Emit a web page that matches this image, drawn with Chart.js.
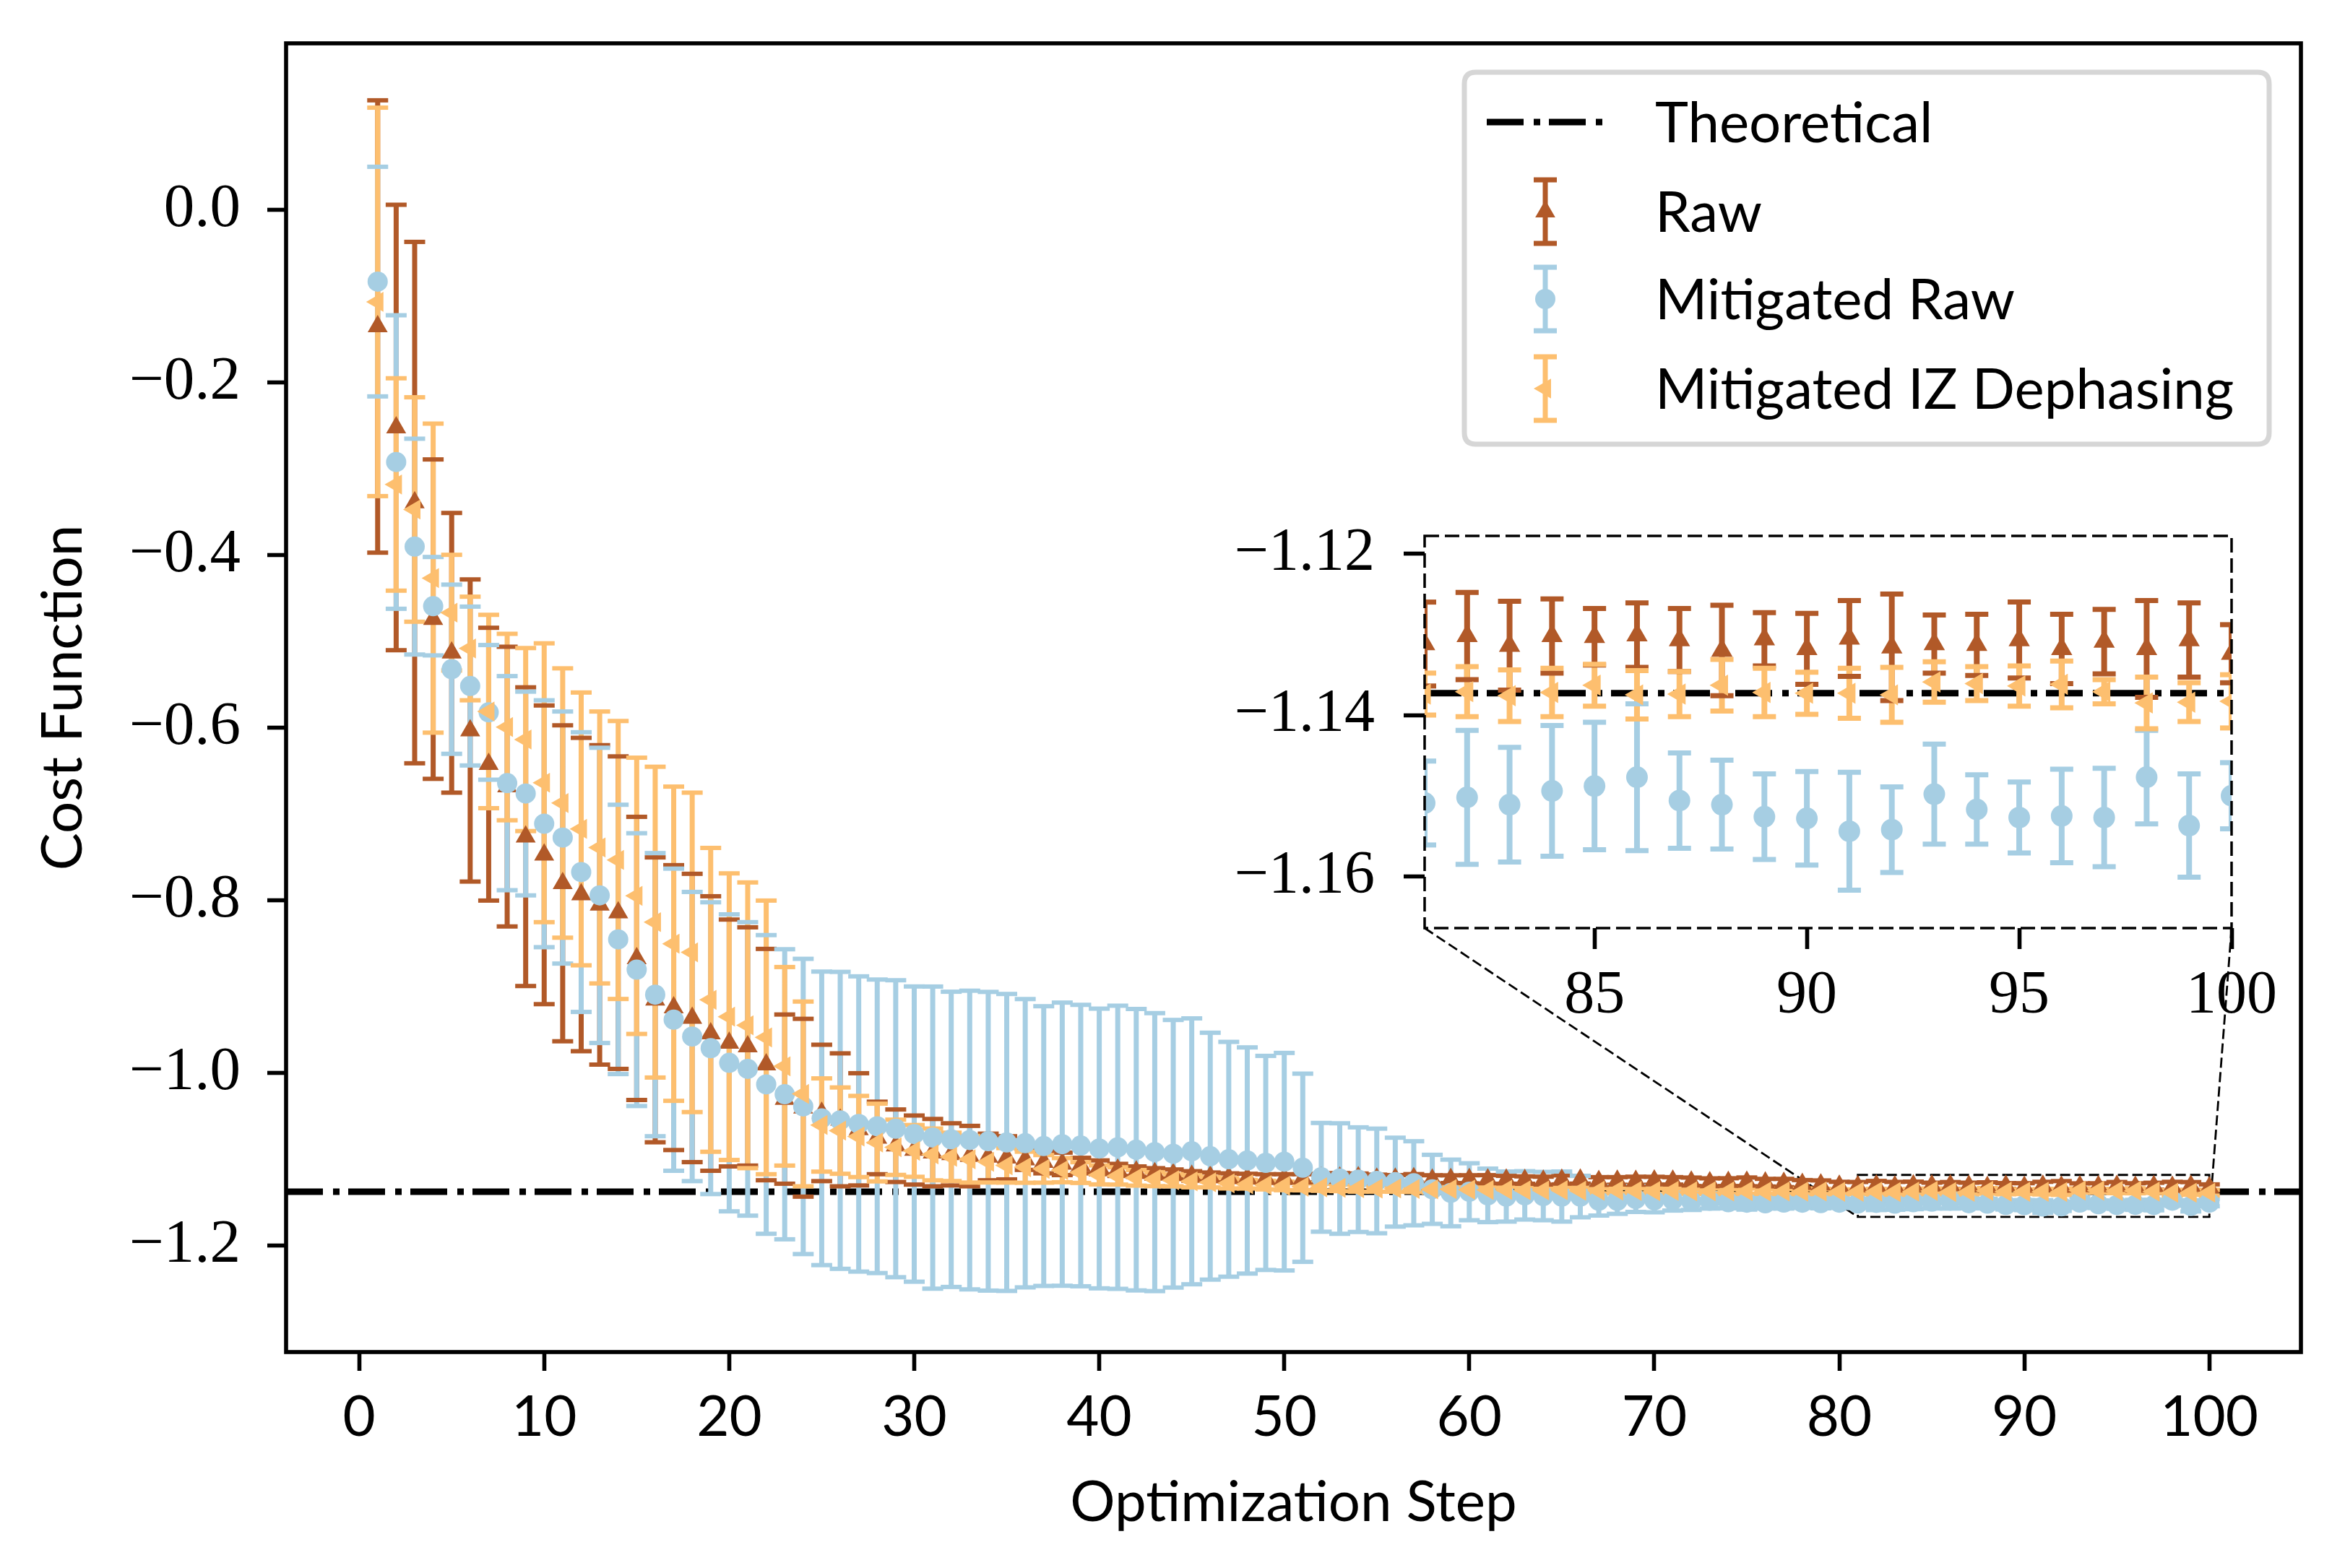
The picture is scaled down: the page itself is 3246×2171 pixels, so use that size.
<!DOCTYPE html>
<html>
<head>
<meta charset="utf-8">
<title>Cost Function vs Optimization Step</title>
<script src="https://cdn.jsdelivr.net/npm/chart.js@4.4.1/dist/chart.umd.min.js"></script>
<style>
  html, body { margin: 0; padding: 0; background: #fff; }
  #wrap { position: relative; width: 3246px; height: 2171px; }
  #main-box { position: absolute; left: 0; top: 0; width: 3246px; height: 2171px; }
  #inset-box { position: absolute; left: 1700px; top: 700px; width: 1500px; height: 720px; }
</style>
</head>
<body>
<div id="wrap">
  <div id="main-box"><canvas id="cost-chart"></canvas></div>
  <div id="inset-box"><canvas id="inset-chart"></canvas></div>
</div>
<script>
// Data
const steps = [
  1, 2, 3, 4, 5, 6, 7, 8, 9, 10, 11, 12, 13, 14, 15, 16, 17, 18, 19, 20,
  21, 22, 23, 24, 25, 26, 27, 28, 29, 30, 31, 32, 33, 34, 35, 36, 37, 38, 39, 40,
  41, 42, 43, 44, 45, 46, 47, 48, 49, 50, 51, 52, 53, 54, 55, 56, 57, 58, 59, 60,
  61, 62, 63, 64, 65, 66, 67, 68, 69, 70, 71, 72, 73, 74, 75, 76, 77, 78, 79, 80,
  81, 82, 83, 84, 85, 86, 87, 88, 89, 90, 91, 92, 93, 94, 95, 96, 97, 98, 99, 100
];

const rawMean = [
  -0.135, -0.252, -0.339, -0.474, -0.513, -0.603, -0.642, -0.668, -0.726, -0.747,
  -0.780, -0.793, -0.805, -0.814, -0.867, -0.915, -0.924, -0.936, -0.954, -0.965,
  -0.969, -0.990, -1.030, -1.040, -1.046, -1.054, -1.065, -1.075, -1.084, -1.089,
  -1.092, -1.094, -1.096, -1.097, -1.098, -1.100, -1.103, -1.105, -1.107, -1.109,
  -1.112, -1.114, -1.116, -1.117, -1.119, -1.120, -1.121, -1.1215, -1.122, -1.122,
  -1.1222, -1.1215, -1.1212, -1.1208, -1.1225, -1.1224, -1.1218, -1.1235, -1.1228, -1.1229,
  -1.1232, -1.1235, -1.1238, -1.1248, -1.1236, -1.1234, -1.1252, -1.1248, -1.1249, -1.1246,
  -1.1247, -1.1258, -1.1265, -1.1262, -1.1259, -1.1268, -1.1272, -1.1284, -1.1292, -1.1305,
  -1.1312, -1.1302, -1.1314, -1.1302, -1.1303, -1.1301, -1.1307, -1.1320, -1.1306, -1.1318,
  -1.1305, -1.1316, -1.1312, -1.1313, -1.1307, -1.1318, -1.1309, -1.1318, -1.1307, -1.1324
];
const rawErr = [
  0.262, 0.258, 0.302, 0.185, 0.162, 0.175, 0.158, 0.162, 0.173, 0.173,
  0.183, 0.1815, 0.185, 0.181, 0.164, 0.165, 0.165, 0.167, 0.159, 0.143,
  0.138, 0.134, 0.098, 0.103, 0.079, 0.077, 0.065, 0.042, 0.042, 0.040,
  0.039, 0.036, 0.035, 0.027, 0.025, 0.012, 0.013, 0.013, 0.009, 0.008,
  0.007, 0.006, 0.006, 0.0055, 0.0055, 0.005, 0.005, 0.005, 0.005, 0.005,
  0.0052, 0.0048, 0.0055, 0.0046, 0.0050, 0.0044, 0.0049, 0.0053, 0.0045, 0.0047,
  0.0051, 0.0046, 0.0043, 0.0049, 0.0052, 0.0045, 0.0048, 0.0044, 0.0050, 0.0046,
  0.0043, 0.0049, 0.0047, 0.0045, 0.0051, 0.0044, 0.0048, 0.0046, 0.0050, 0.0047,
  0.0052, 0.0054, 0.0055, 0.0046, 0.0035, 0.0040, 0.0039, 0.0056, 0.0033, 0.0044,
  0.0047, 0.0066, 0.0036, 0.0038, 0.0047, 0.0043, 0.0040, 0.0060, 0.0046, 0.0036
];

const mitMean = [
  -0.083, -0.292, -0.390, -0.459, -0.532, -0.5515, -0.582, -0.664, -0.676, -0.711,
  -0.727, -0.767, -0.794, -0.845, -0.880, -0.909, -0.938, -0.9575, -0.971, -0.988,
  -0.995, -1.013, -1.0244, -1.0385, -1.0523, -1.0546, -1.0588, -1.0615, -1.0643, -1.0705,
  -1.0746, -1.0766, -1.0774, -1.0788, -1.0802, -1.0811, -1.0844, -1.0822, -1.0838, -1.0872,
  -1.0858, -1.0886, -1.0914, -1.0933, -1.0905, -1.0961, -1.0997, -1.1011, -1.1039, -1.1025,
  -1.1095, -1.1206, -1.1220, -1.1233, -1.1248, -1.1262, -1.1275, -1.1345, -1.1387, -1.1373,
  -1.1415, -1.1429, -1.1415, -1.1423, -1.1429, -1.1429, -1.1479, -1.1479, -1.1457, -1.1471,
  -1.1471, -1.1484, -1.1478, -1.1495, -1.1500, -1.1507, -1.1498, -1.1500, -1.1505, -1.1500,
  -1.1509, -1.1502, -1.1511, -1.1494, -1.1488, -1.1477, -1.1506, -1.1511, -1.1526, -1.1528,
  -1.1544, -1.1542, -1.1498, -1.1517, -1.1527, -1.1525, -1.1527, -1.1477, -1.1537, -1.1500
];
const mitErr = [
  0.133, 0.170, 0.125, 0.057, 0.098, 0.092, 0.078, 0.124, 0.118, 0.143,
  0.146, 0.162, 0.171, 0.156, 0.158, 0.164, 0.175, 0.1675, 0.169, 0.172,
  0.170, 0.173, 0.168, 0.171, 0.170, 0.172, 0.171, 0.170, 0.172, 0.171,
  0.175, 0.171, 0.173, 0.173, 0.172, 0.167, 0.162, 0.164, 0.163, 0.162,
  0.164, 0.163, 0.161, 0.155, 0.154, 0.143, 0.136, 0.131, 0.124, 0.126,
  0.109, 0.063, 0.064, 0.0606, 0.0606, 0.0515, 0.0487, 0.040, 0.0386, 0.033,
  0.031, 0.029, 0.028, 0.028, 0.029, 0.024, 0.017, 0.015, 0.015, 0.014,
  0.012, 0.010, 0.009, 0.007, 0.008, 0.006, 0.007, 0.006, 0.006, 0.006,
  0.0052, 0.0083, 0.0071, 0.0081, 0.0079, 0.0091, 0.0059, 0.0055, 0.0053, 0.0058,
  0.0073, 0.0053, 0.0062, 0.0043, 0.0044, 0.0058, 0.0061, 0.0058, 0.0064, 0.0041
];

const izMean = [
  -0.1065, -0.318, -0.347, -0.4265, -0.4665, -0.508, -0.581, -0.599, -0.6135, -0.6635,
  -0.687, -0.717, -0.7385, -0.753, -0.7945, -0.825, -0.850, -0.860, -0.915, -0.9345,
  -0.9445, -0.9585, -0.992, -1.024, -1.060, -1.0665, -1.0733, -1.0803, -1.0858, -1.090,
  -1.0941, -1.0969, -1.0997, -1.1026, -1.1067, -1.1089, -1.1108, -1.1123, -1.1151, -1.1178,
  -1.1190, -1.1212, -1.1228, -1.1240, -1.1252, -1.1263, -1.1275, -1.1286, -1.1296, -1.1305,
  -1.1315, -1.1322, -1.1328, -1.1331, -1.1336, -1.1334, -1.1341, -1.1345, -1.1343, -1.1349,
  -1.1352, -1.1350, -1.1356, -1.1358, -1.1355, -1.1361, -1.1362, -1.1359, -1.1364, -1.1366,
  -1.1363, -1.1368, -1.1367, -1.1370, -1.1366, -1.1371, -1.1369, -1.1372, -1.1370, -1.1373,
  -1.1374, -1.1371, -1.1376, -1.1372, -1.1363, -1.1375, -1.1374, -1.1363, -1.1372, -1.1373,
  -1.1373, -1.1375, -1.1359, -1.1361, -1.1364, -1.1362, -1.1371, -1.1385, -1.1384, -1.1383
];
const izErr = [
  0.225, 0.123, 0.130, 0.179, 0.067, 0.060, 0.112, 0.108, 0.106, 0.1615,
  0.156, 0.158, 0.1575, 0.161, 0.160, 0.180, 0.182, 0.185, 0.176, 0.166,
  0.1655, 0.1585, 0.115, 0.107, 0.054, 0.050, 0.047, 0.045, 0.032, 0.030,
  0.030, 0.028, 0.027, 0.024, 0.020, 0.018, 0.016, 0.014, 0.012, 0.011,
  0.010, 0.009, 0.008, 0.007, 0.007, 0.006, 0.006, 0.005, 0.005, 0.005,
  0.0042, 0.0040, 0.0038, 0.0041, 0.0036, 0.0039, 0.0035, 0.0037, 0.0034, 0.0036,
  0.0033, 0.0035, 0.0032, 0.0034, 0.0031, 0.0033, 0.0030, 0.0032, 0.0029, 0.0031,
  0.0030, 0.0028, 0.0031, 0.0029, 0.0030, 0.0027, 0.0030, 0.0028, 0.0029, 0.0027,
  0.0026, 0.0031, 0.0032, 0.0030, 0.0026, 0.0030, 0.0028, 0.0032, 0.0030, 0.0026,
  0.0031, 0.0034, 0.0025, 0.0021, 0.0025, 0.0029, 0.0015, 0.0032, 0.0024, 0.0033
];

const theoretical = -1.1373;

const xTicks = [0, 10, 20, 30, 40, 50, 60, 70, 80, 90, 100];
const yTicks = [-1.2, -1.0, -0.8, -0.6, -0.4, -0.2, 0.0];
const insetXTicks = [85, 90, 95, 100];
const insetYTicks = [-1.16, -1.14, -1.12];
const insetXRange = [81, 100];
const insetYRange = [-1.1664, -1.1178];

// Colours (matplotlib "Paired")
const BROWN = "#b15928";
const BLUE = "#a6cee3";
const ORANGE = "#fdbf6f";

// Where the inset plot area sits on the page
const INSET_BOX = { left: 1700, top: 700, width: 1500, height: 720 };
const INSET_AREA = { left: 1972, top: 742, right: 3089, bottom: 1285 };

const THEO_DASH = [51, 14, 9, 12];
const SANS = "Lato";
const SERIF = "'Liberation Serif'";

function minusFmt(v, digits) {
  const s = Math.abs(v).toFixed(digits);
  return (v < -1e-9 ? "\u2212" : "") + s;
}

function barPoints(mean, err) {
  const pts = [];
  steps.forEach((s, i) => {
    pts.push({ x: s, y: mean[i] - err[i] });
    pts.push({ x: s, y: mean[i] + err[i] });
    pts.push({ x: s, y: null });
  });
  return pts;
}

function capPoints(mean, err) {
  const pts = [];
  steps.forEach((s, i) => {
    pts.push({ x: s, y: mean[i] - err[i] });
    pts.push({ x: s, y: mean[i] + err[i] });
  });
  return pts;
}

function markerPoints(mean) {
  return steps.map((s, i) => ({ x: s, y: mean[i] }));
}

const seriesList = [
  { label: "Raw", mean: rawMean, err: rawErr, color: BROWN, style: "triangle", rot: 0 },
  { label: "Mitigated Raw", mean: mitMean, err: mitErr, color: BLUE, style: "circle", rot: 0 },
  { label: "Mitigated IZ Dephasing", mean: izMean, err: izErr, color: ORANGE, style: "triangle", rot: -90 }
];

// lower "order" is drawn on top: markers > caps > bars > theoretical line
function buildDatasets(o) {
  const ds = [{
    type: "line",
    label: "Theoretical",
    data: [{ x: o.xMin, y: theoretical }, { x: o.xMax, y: theoretical }],
    borderColor: "#000",
    borderWidth: o.theoWidth,
    borderDash: THEO_DASH,
    pointRadius: 0,
    order: 10,
    clip: o.clip
  }];
  seriesList.forEach((s, i) => {
    ds.push({
      type: "line",
      label: s.label + " bars",
      data: barPoints(s.mean, s.err),
      borderColor: s.color,
      borderWidth: o.barWidth,
      pointRadius: 0,
      spanGaps: false,
      order: 9 - i,
      clip: o.clip
    });
    ds.push({
      type: "scatter",
      label: s.label + " caps",
      data: capPoints(s.mean, s.err),
      pointStyle: "line",
      pointRadius: o.cap,
      pointBorderColor: s.color,
      pointBorderWidth: o.capWidth,
      order: 6 - i,
      clip: o.clip
    });
    ds.push({
      type: "scatter",
      label: s.label,
      data: markerPoints(s.mean),
      pointStyle: s.style,
      pointRotation: s.rot,
      pointRadius: s.style === "circle" ? o.dot : o.tri,
      pointBackgroundColor: s.color,
      pointBorderWidth: 0,
      order: 3 - i,
      clip: o.clip
    });
  });
  return ds;
}

function drawMarker(ctx, style, rot, r, x, y, color) {
  ctx.save();
  ctx.fillStyle = color;
  ctx.beginPath();
  if (style === "circle") {
    ctx.arc(x, y, r, 0, Math.PI * 2);
  } else {
    let a = rot * Math.PI / 180;
    ctx.moveTo(x + Math.sin(a) * r, y - Math.cos(a) * r);
    a += 2 * Math.PI / 3;
    ctx.lineTo(x + Math.sin(a) * r, y - Math.cos(a) * r);
    a += 2 * Math.PI / 3;
    ctx.lineTo(x + Math.sin(a) * r, y - Math.cos(a) * r);
    ctx.closePath();
  }
  ctx.fill();
  ctx.restore();
}

function roundRect(ctx, x, y, w, h, r) {
  ctx.beginPath();
  ctx.moveTo(x + r, y);
  ctx.lineTo(x + w - r, y);
  ctx.quadraticCurveTo(x + w, y, x + w, y + r);
  ctx.lineTo(x + w, y + h - r);
  ctx.quadraticCurveTo(x + w, y + h, x + w - r, y + h);
  ctx.lineTo(x + r, y + h);
  ctx.quadraticCurveTo(x, y + h, x, y + h - r);
  ctx.lineTo(x, y + r);
  ctx.quadraticCurveTo(x, y, x + r, y);
  ctx.closePath();
}

// zoom box + connector lines, main frame and legend
const mainDecor = {
  id: "mainDecor",
  beforeDatasetsDraw(chart) {
    const { ctx, scales: { x, y } } = chart;
    const x0 = x.getPixelForValue(insetXRange[0]);
    const x1 = x.getPixelForValue(insetXRange[1]);
    const yLo = y.getPixelForValue(insetYRange[0]);
    const yHi = y.getPixelForValue(insetYRange[1]);
    ctx.save();
    ctx.strokeStyle = "#000";
    ctx.lineWidth = 2.8;
    ctx.setLineDash([14, 6]);
    ctx.strokeRect(x0, yHi, x1 - x0, yLo - yHi);
    ctx.beginPath();
    ctx.moveTo(INSET_AREA.left, INSET_AREA.bottom);
    ctx.lineTo(x0, yLo);
    ctx.moveTo(INSET_AREA.right, INSET_AREA.bottom);
    ctx.lineTo(x1, yLo);
    ctx.stroke();
    ctx.restore();
  },
  afterDraw(chart) {
    const { ctx, chartArea: a } = chart;
    ctx.save();
    ctx.strokeStyle = "#000";
    ctx.lineWidth = 5.6;
    ctx.strokeRect(a.left, a.top, a.right - a.left, a.bottom - a.top);

    // legend
    const L = { left: a.right - 1158, top: a.top + 40, w: 1114, h: 515 };
    roundRect(ctx, L.left, L.top, L.w, L.h, 16);
    ctx.fillStyle = "rgba(255,255,255,0.8)";
    ctx.fill();
    ctx.lineWidth = 7;
    ctx.strokeStyle = "#d6d6d6";
    ctx.stroke();

    const hx = L.left + 112;
    const tx = L.left + 264;
    const rows = [L.top + 69, L.top + 193, L.top + 314, L.top + 438];

    ctx.strokeStyle = "#000";
    ctx.lineWidth = 9;
    ctx.setLineDash(THEO_DASH);
    ctx.beginPath();
    ctx.moveTo(hx - 81, rows[0]);
    ctx.lineTo(hx + 80, rows[0]);
    ctx.stroke();
    ctx.setLineDash([]);

    seriesList.forEach((s, i) => {
      const cy = rows[i + 1];
      ctx.strokeStyle = s.color;
      ctx.lineWidth = 7;
      ctx.beginPath();
      ctx.moveTo(hx, cy - 44);
      ctx.lineTo(hx, cy + 44);
      ctx.stroke();
      ctx.beginPath();
      ctx.moveTo(hx - 16, cy - 44);
      ctx.lineTo(hx + 16, cy - 44);
      ctx.moveTo(hx - 16, cy + 44);
      ctx.lineTo(hx + 16, cy + 44);
      ctx.stroke();
      drawMarker(ctx, s.style, s.rot, s.style === "circle" ? 14 : 16, hx, cy, s.color);
    });

    ctx.fillStyle = "#000";
    ctx.font = "78px " + SANS;
    ctx.textAlign = "left";
    ctx.textBaseline = "alphabetic";
    ctx.fillText("Theoretical", tx, rows[0] + 28);
    seriesList.forEach((s, i) => ctx.fillText(s.label, tx, rows[i + 1] + 28));
    ctx.restore();
  }
};

const insetDecor = {
  id: "insetDecor",
  beforeDraw(chart) {
    const { ctx, chartArea: a } = chart;
    ctx.save();
    ctx.fillStyle = "#fff";
    ctx.fillRect(a.left, a.top, a.right - a.left, a.bottom - a.top);
    ctx.restore();
  },
  afterDraw(chart) {
    const { ctx, chartArea: a } = chart;
    ctx.save();
    ctx.strokeStyle = "#000";
    ctx.lineWidth = 3.5;
    ctx.setLineDash([20, 8]);
    ctx.strokeRect(a.left, a.top, a.right - a.left, a.bottom - a.top);
    ctx.restore();
  }
};

const tickGrid = (len) => ({
  display: true,
  drawOnChartArea: false,
  drawTicks: true,
  tickLength: len,
  tickWidth: 5.6,
  tickColor: "#000"
});

// Main chart
const costCtx = document.getElementById("cost-chart").getContext("2d");
new Chart(costCtx, {
  type: "scatter",
  data: {
    datasets: buildDatasets({
      xMin: -3.95, xMax: 104.95, theoWidth: 9, barWidth: 7,
      cap: 14.5, capWidth: 6, dot: 14, tri: 16, clip: undefined
    })
  },
  options: {
    responsive: true,
    maintainAspectRatio: false,
    animation: false,
    devicePixelRatio: 1,
    events: [],
    layout: { padding: { left: 0, top: 60, right: 61, bottom: 0 } },
    plugins: { legend: { display: false }, tooltip: { enabled: false } },
    scales: {
      x: {
        type: "linear",
        min: -3.95,
        max: 104.95,
        afterFit: (s) => { s.height = 299; s.paddingLeft = 0; s.paddingRight = 0; },
        afterBuildTicks: (s) => { s.ticks = xTicks.map((v) => ({ value: v })); },
        grid: tickGrid(26),
        border: { display: false },
        ticks: {
          color: "#000",
          font: { family: SANS, size: 78 },
          padding: 18,
          autoSkip: false,
          maxRotation: 0,
          minRotation: 0,
          callback: (v) => String(v)
        },
        title: {
          display: true,
          text: "Optimization Step",
          color: "#000",
          font: { family: SANS, size: 78 },
          padding: { top: 0, bottom: 43 }
        }
      },
      y: {
        type: "linear",
        min: -1.323,
        max: 0.193,
        afterFit: (s) => { s.width = 396; s.paddingTop = 0; s.paddingBottom = 0; },
        afterBuildTicks: (s) => { s.ticks = yTicks.map((v) => ({ value: v })); },
        grid: tickGrid(26),
        border: { display: false },
        ticks: {
          color: "#000",
          font: { family: SERIF, size: 85 },
          padding: 37,
          autoSkip: false,
          callback: (v) => minusFmt(v, 1)
        },
        title: {
          display: true,
          text: "Cost Function",
          color: "#000",
          font: { family: SANS, size: 78 },
          padding: { top: 41, bottom: 0 }
        }
      }
    }
  },
  plugins: [mainDecor]
});

// Inset chart (zoom on steps 81-100)
const insetCtx = document.getElementById("inset-chart").getContext("2d");
const insetW = INSET_BOX.width, insetH = INSET_BOX.height;
new Chart(insetCtx, {
  type: "scatter",
  data: {
    datasets: buildDatasets({
      xMin: insetXRange[0], xMax: insetXRange[1], theoWidth: 9, barWidth: 8,
      cap: 16, capWidth: 7, dot: 15, tri: 17, clip: 0
    })
  },
  options: {
    responsive: true,
    maintainAspectRatio: false,
    animation: false,
    devicePixelRatio: 1,
    events: [],
    layout: {
      padding: {
        left: 0,
        top: INSET_AREA.top - INSET_BOX.top,
        right: INSET_BOX.left + insetW - INSET_AREA.right,
        bottom: 0
      }
    },
    plugins: { legend: { display: false }, tooltip: { enabled: false } },
    scales: {
      x: {
        type: "linear",
        min: insetXRange[0],
        max: insetXRange[1],
        afterFit: (s) => {
          s.height = insetH - (INSET_AREA.bottom - INSET_BOX.top);
          s.paddingLeft = 0; s.paddingRight = 0;
        },
        afterBuildTicks: (s) => { s.ticks = insetXTicks.map((v) => ({ value: v })); },
        grid: tickGrid(29),
        border: { display: false },
        ticks: {
          color: "#000",
          font: { family: SERIF, size: 84 },
          padding: 16,
          autoSkip: false,
          maxRotation: 0,
          minRotation: 0,
          callback: (v) => String(v)
        }
      },
      y: {
        type: "linear",
        min: insetYRange[0],
        max: insetYRange[1],
        afterFit: (s) => {
          s.width = INSET_AREA.left - INSET_BOX.left;
          s.paddingTop = 0; s.paddingBottom = 0;
        },
        afterBuildTicks: (s) => { s.ticks = insetYTicks.map((v) => ({ value: v })); },
        grid: tickGrid(29),
        border: { display: false },
        ticks: {
          color: "#000",
          font: { family: SERIF, size: 84 },
          padding: 40,
          autoSkip: false,
          callback: (v) => minusFmt(v, 2)
        }
      }
    }
  },
  plugins: [insetDecor]
});
</script>
</body>
</html>
